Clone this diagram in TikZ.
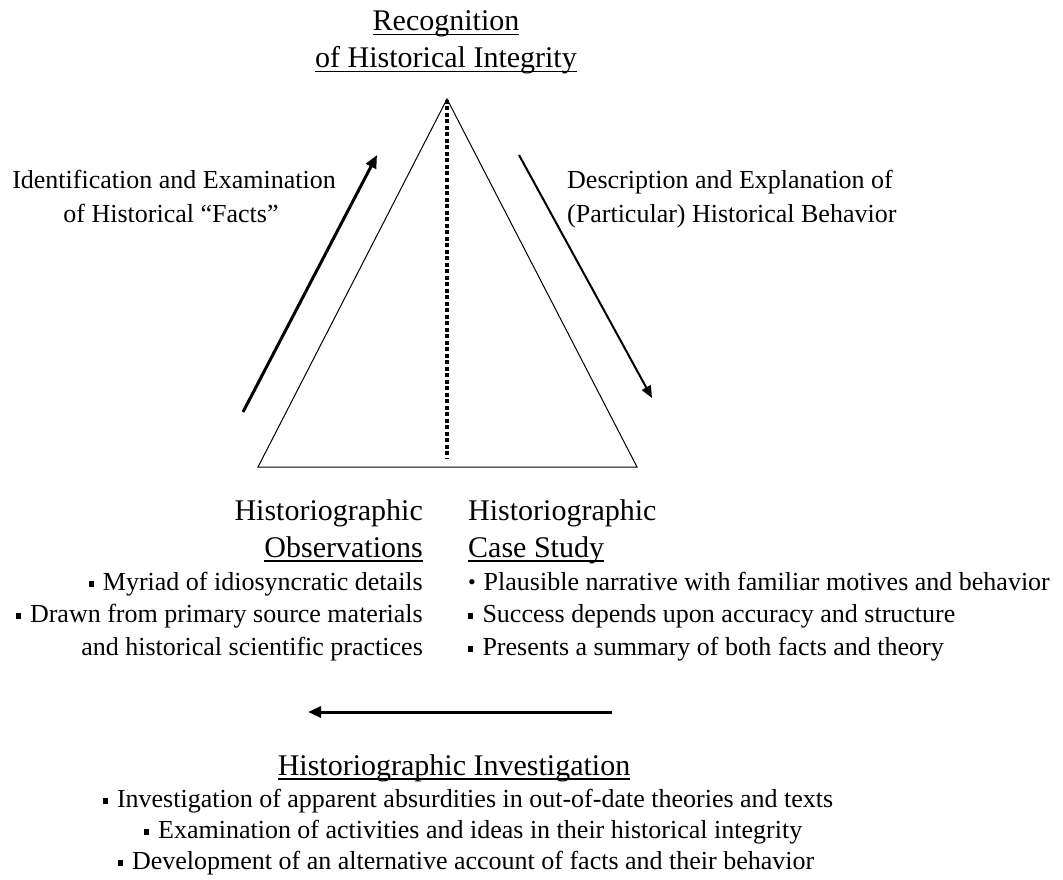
\documentclass[tikz,border=0pt]{standalone}
\usepackage{fontspec}
\setmainfont{Liberation Serif}
\usetikzlibrary{arrows.meta}
% small square bullet and round bullet
\newcommand{\sqb}{\raisebox{0.28ex}{\rule{0.2em}{0.2em}}\hspace{0.35em}}
\newcommand{\rdb}{\raisebox{0.05ex}{\scalebox{0.85}{•}}\hspace{0.3em}}
% underline with a fixed offset and thickness
\newsavebox{\ulbox}
\newcommand{\uln}[1]{\sbox{\ulbox}{#1}\rlap{\rule[-4.5pt]{\wd\ulbox}{1.6pt}}\usebox{\ulbox}}
\begin{document}
\begin{tikzpicture}[x=1pt,y=-1pt,
  txt/.style={font=\fontsize{26}{32}\selectfont, inner sep=0pt},
  head/.style={font=\fontsize{30}{36}\selectfont, inner sep=0pt},
  bigarrow/.style={line width=3pt, -{Triangle[length=13pt,width=11pt]}},
  thinarrow/.style={line width=2pt, -{Triangle[length=12pt,width=10pt]}}]
\useasboundingbox (0,0) rectangle (1063,880);

% apex label
\node[head, anchor=base] (t1) at (446,31) {\uln{Recognition}};
\node[head, anchor=base] (t2) at (446,68) {\uln{of Historical Integrity}};

% triangle with dotted axis
\coordinate (apex) at (447,99);
\coordinate (bl) at (258,467);
\coordinate (br) at (637,467);
\draw[line width=1pt] (apex) -- (bl) -- (br) -- cycle;
\coordinate (dtop) at (447,100);
\coordinate (dbot) at (447,459);
\draw[line width=4pt, dash pattern=on 4pt off 2.5pt] (dtop) -- (dbot);

% side arrows
\coordinate (la1) at (243,412);
\coordinate (la2) at (377,155);
\draw[bigarrow] (la1) -- (la2);
\coordinate (ra1) at (519,155);
\coordinate (ra2) at (652,398);
\draw[thinarrow] (ra1) -- (ra2);

\node[txt, anchor=base] (l1) at (174,188) {Identification and Examination};
\node[txt, anchor=base] (l2) at (171,222) {of Historical “Facts”};
\node[txt, anchor=base west] (r1) at (567,188) {Description and Explanation of};
\node[txt, anchor=base west] (r2) at (567,222) {(Particular) Historical Behavior};

% left base block
\node[head, anchor=base east] (o1) at (423,520) {Historiographic};
\node[head, anchor=base east] (o2) at (423,557) {\uln{Observations}};
\node[txt, anchor=base east] (o3) at (423,590) {\sqb Myriad of idiosyncratic details};
\node[txt, anchor=base east] (o4) at (423,622) {\sqb Drawn from primary source materials};
\node[txt, anchor=base east] (o5) at (423,655) {and historical scientific practices};

% right base block
\node[head, anchor=base west] (c1) at (468,520) {Historiographic};
\node[head, anchor=base west] (c2) at (468,557) {\uln{Case Study}};
\node[txt, anchor=base west] (c3) at (468,590) {\rdb Plausible narrative with familiar motives and behavior};
\node[txt, anchor=base west] (c4) at (468,622) {\sqb Success depends upon accuracy and structure};
\node[txt, anchor=base west] (c5) at (468,655) {\sqb Presents a summary of both facts and theory};

% bottom arrow
\coordinate (b1) at (612,712);
\coordinate (b2) at (308,712);
\draw[bigarrow] (b1) -- (b2);

% investigation block
\node[head, anchor=base] (i1) at (454,775) {\uln{Historiographic Investigation}};
\node[txt, anchor=base] (i2) at (468,807) {\sqb Investigation of apparent absurdities in out-of-date theories and texts};
\node[txt, anchor=base] (i3) at (473,838) {\sqb Examination of activities and ideas in their historical integrity};
\node[txt, anchor=base] (i4) at (466,869) {\sqb Development of an alternative account of facts and their behavior};
\end{tikzpicture}
\end{document}
